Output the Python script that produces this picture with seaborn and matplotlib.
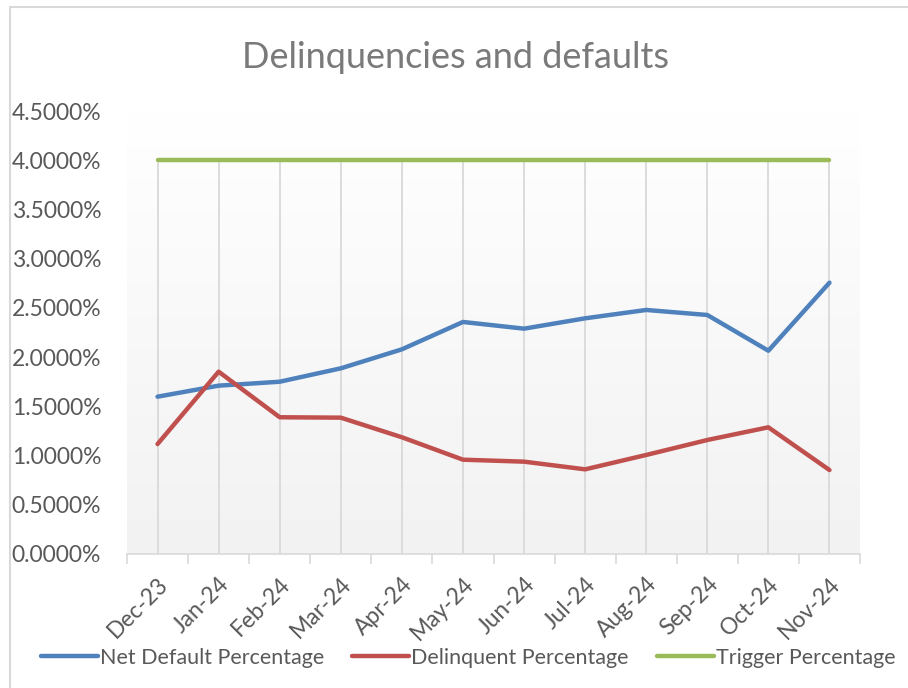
import numpy as np
import pandas as pd
import seaborn as sns
import matplotlib.pyplot as plt
from matplotlib.patches import Rectangle
from matplotlib.ticker import PercentFormatter, FixedLocator

# ---- data ----
months = ["Dec-23", "Jan-24", "Feb-24", "Mar-24", "Apr-24", "May-24",
          "Jun-24", "Jul-24", "Aug-24", "Sep-24", "Oct-24", "Nov-24"]
net_default = [1.598, 1.710, 1.750, 1.886, 2.079, 2.357,
               2.289, 2.394, 2.479, 2.428, 2.065, 2.756]
delinquent = [1.117, 1.852, 1.389, 1.385, 1.186, 0.958,
              0.938, 0.860, 1.006, 1.158, 1.287, 0.853]
trigger = [4.0] * 12
series_names = ["Net Default Percentage", "Delinquent Percentage", "Trigger Percentage"]
colors = ["#4f81bd", "#c0504d", "#9bbb59"]

df = pd.DataFrame({
    "pos": list(range(len(months))) * 3,
    "value": net_default + delinquent + trigger,
    "series": [s for s in series_names for _ in months],
})

sns.set_theme(style="white")
plt.rcParams["font.family"] = ["Lato", "DejaVu Sans"]

fig = plt.figure(figsize=(9.08, 6.88), dpi=100)
ax = fig.add_axes([127 / 908, 1 - 554 / 688, 733 / 908, 443 / 688])

# gradient background of the plot area
grad = np.linspace(0, 1, 256).reshape(-1, 1)
cmap = sns.blend_palette(["#ffffff", "#f2f2f2"], as_cmap=True)
ax.imshow(grad, cmap=cmap, aspect="auto", extent=[-0.5, 11.5, 0, 4.5],
          origin="upper", zorder=0)

# drop lines
ax.vlines(range(len(months)), 0, max(trigger), color="#d9d9d9", lw=1.3, zorder=1)

sns.lineplot(data=df, x="pos", y="value", hue="series", palette=colors,
             linewidth=3.2, ax=ax, legend=True, zorder=3)

ax.set_xlim(-0.5, 11.5)
ax.set_ylim(0, 4.5)
ax.set_yticks(np.arange(0, 4.51, 0.5))
ax.yaxis.set_major_formatter(PercentFormatter(decimals=4))
ax.set_xticks(range(len(months)))
ax.set_xticklabels(months, rotation=45, ha="right", rotation_mode="anchor")
ax.xaxis.set_minor_locator(FixedLocator(np.arange(-0.5, 12, 1)))
ax.tick_params(axis="x", which="major", length=0, pad=14, labelsize=16.5, colors="#595959")
ax.tick_params(axis="x", which="minor", length=7, width=1.2, color="#d9d9d9", bottom=True)
ax.tick_params(axis="y", length=0, pad=83, labelsize=16.5, colors="#595959")
for lab in ax.get_yticklabels():
    lab.set_horizontalalignment("left")
ax.set_xlabel("")
ax.set_ylabel("")
for s in ["top", "right", "left"]:
    ax.spines[s].set_visible(False)
ax.spines["bottom"].set_color("#d9d9d9")
ax.spines["bottom"].set_linewidth(1.2)

handles, labels = ax.get_legend_handles_labels()
ax.get_legend().remove()
fig.legend(handles, labels, loc="center", bbox_to_anchor=(468 / 908, 1 - 658 / 688),
           ncol=3, frameon=False, fontsize=15.5, handlelength=2.65, handletextpad=0.1,
           columnspacing=1.3, labelcolor="#595959")

fig.text(0.502, 1 - 58 / 688, "Delinquencies and defaults", ha="center", va="center",
         fontsize=26, color="#7a7a7a")

# chart border
fig.patches.append(Rectangle((10 / 908, -0.1), 1.2, 1 - 7 / 688 + 0.1,
                             transform=fig.transFigure, fill=False,
                             edgecolor="#d9d9d9", lw=1.5))

fig.savefig("out.png", dpi=100)
